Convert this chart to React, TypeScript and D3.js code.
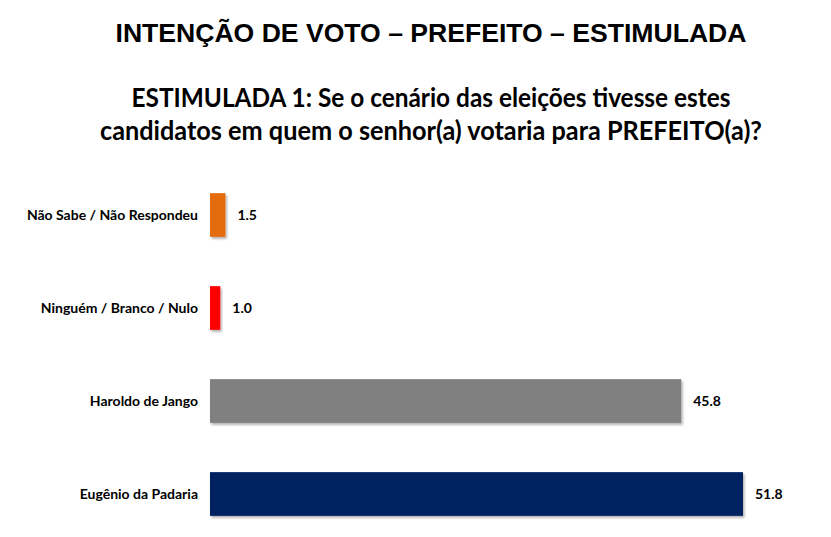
import React from 'react';
import * as d3 from 'd3';

const categories = ['Não Sabe / Não Respondeu', 'Ninguém / Branco / Nulo', 'Haroldo de Jango', 'Eugênio da Padaria'];
const values = [1.5, 1.0, 45.8, 51.8];
const colors = ['#E46C0A', '#FF0000', '#808080', '#002060'];

const title = 'INTENÇÃO DE VOTO – PREFEITO – ESTIMULADA';
const subtitleLines = [
  'ESTIMULADA 1: Se o cenário das eleições tivesse estes',
  'candidatos em quem o senhor(a) votaria para PREFEITO(a)?',
];

const width = 831;
const height = 537;

const App: React.FC = () => {
  const x = d3.scaleLinear().domain([0, 51.8]).range([210, 743]);
  const y = d3.scaleBand<string>()
    .domain(categories)
    .range([168.5, 540.5])
    .paddingInner(0.53)
    .paddingOuter(0.265);

  return (
    <svg width={width} height={height} style={{ position: 'absolute', left: 0, top: 0, background: '#fff' }}>
      <defs>
        <filter id="shadow" x="-10%" y="-10%" width="130%" height="140%">
          <feDropShadow dx="1.5" dy="2" stdDeviation="1.2" floodColor="#000" floodOpacity="0.3" />
        </filter>
      </defs>

      <text x={431} y={42} textAnchor="middle" fontFamily="'Liberation Sans', Arial, sans-serif"
        fontWeight="bold" fontSize={26} textLength={631} lengthAdjust="spacingAndGlyphs" fill="#000">
        {title}
      </text>

      {subtitleLines.map((line, i) => (
        <text key={i} x={431} y={107 + i * 33} textAnchor="middle" fontFamily="Lato, 'Noto Sans', sans-serif"
          fontWeight="bold" fontSize={27} textLength={i === 0 ? 599 : 662} lengthAdjust="spacingAndGlyphs" fill="#000">
          {line}
        </text>
      ))}

      <g>
        {categories.map((c, i) => {
          const yc = (y(c) as number) + y.bandwidth() / 2;
          return (
            <g key={c}>
              <rect x={x(0)} y={y(c)} width={x(values[i]) - x(0)} height={y.bandwidth()}
                fill={colors[i]} filter="url(#shadow)" />
              <text x={198} y={yc} dy="0.35em" textAnchor="end" fontFamily="Lato, 'Noto Sans', sans-serif"
                fontWeight="bold" fontSize={14} fill="#000">
                {c}
              </text>
              <text x={x(values[i]) + 12} y={yc} dy="0.35em" fontFamily="Lato, 'Noto Sans', sans-serif"
                fontWeight="bold" fontSize={14} fill="#000">
                {values[i].toFixed(1)}
              </text>
            </g>
          );
        })}
      </g>
    </svg>
  );
};

export default App;
